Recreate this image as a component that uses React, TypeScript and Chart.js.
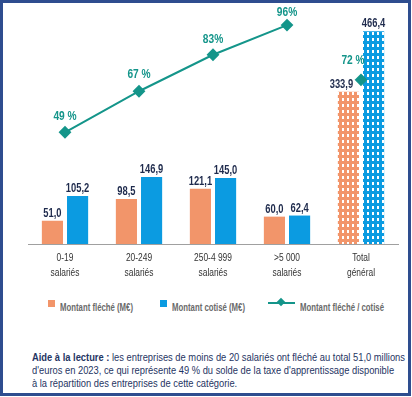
import React, { useEffect, useLayoutEffect, useRef } from 'react';
import { Chart, registerables } from 'chart.js';
Chart.register(...registerables);

const categories: string[][] = [
  ['0-19', 'salariés'],
  ['20-249', 'salariés'],
  ['250-4 999', 'salariés'],
  ['>5 000', 'salariés'],
  ['Total', 'général'],
];
const flecheValues = [51.0, 98.5, 121.1, 60.0, 333.9];
const cotiseValues = [105.2, 146.9, 145.0, 62.4, 466.4];
const ratioValues = [49, 67, 83, 96, 72];
const ratioLabels = ['49 %', '67 %', '83%', '96%', '72 %'];

const ORANGE = '#F2956A';
const BLUE = '#0B9BE1';
const TEAL = '#14958A';
const NAVY = '#1F2B4D';
const FRAME = '#2E4D8F';
const FONT = "'Liberation Sans', Arial, sans-serif";

function makePattern(color: string): CanvasPattern | string {
  const c = document.createElement('canvas');
  c.width = 5;
  c.height = 6;
  const g = c.getContext('2d');
  if (!g) return color;
  g.fillStyle = color;
  g.fillRect(0, 0, 5, 6);
  g.fillStyle = '#ffffff';
  g.fillRect(2, 2, 2, 3);
  return g.createPattern(c, 'repeat') || color;
}

const fmt = (v: number) => v.toFixed(1).replace('.', ',');

function squeezeText(ctx: CanvasRenderingContext2D, text: string, x: number, y: number, sx: number) {
  ctx.save();
  ctx.translate(x, y);
  ctx.scale(sx, 1);
  ctx.fillText(text, 0, 0);
  ctx.restore();
}

// vertical label offsets above the ratio markers (px)
const ratioLabelLift = [16, 17, 15, 12, 19];

const labelPlugin = {
  id: 'valueLabels',
  afterDatasetsDraw(chart: any) {
    const ctx = chart.ctx as CanvasRenderingContext2D;
    const last = categories.length - 1;
    ctx.save();
    ctx.textAlign = 'center';
    ctx.textBaseline = 'alphabetic';
    ctx.font = `bold 12px ${FONT}`;
    ctx.fillStyle = NAVY;
    [0, 1].forEach((di) => {
      const meta = chart.getDatasetMeta(di);
      const vals = di === 0 ? flecheValues : cotiseValues;
      meta.data.forEach((el: any, i: number) => {
        const dx = di === 0 && i === last ? -7 : 0;
        squeezeText(ctx, fmt(vals[i]), el.x + dx, el.y - 4, 0.78);
      });
    });
    const lm = chart.getDatasetMeta(2);
    ctx.font = `bold 12px ${FONT}`;
    ctx.fillStyle = TEAL;
    ctx.textBaseline = 'middle';
    lm.data.forEach((el: any, i: number) => {
      squeezeText(ctx, ratioLabels[i], el.x + (i === last ? -8 : 0), el.y - ratioLabelLift[i], 0.85);
    });
    // category labels
    const xs = chart.scales.x;
    const bottom = chart.chartArea.bottom;
    ctx.font = `10.5px ${FONT}`;
    ctx.fillStyle = '#333333';
    categories.forEach((lines, i) => {
      const x = xs.getPixelForTick(i);
      lines.forEach((t, j) => {
        squeezeText(ctx, t, x, bottom + 14 + j * 15, 0.8);
      });
    });
    ctx.restore();
  },
};

function Squeeze({ target, style, children }: { target: number; style?: React.CSSProperties; children: React.ReactNode }) {
  const ref = useRef<HTMLSpanElement>(null);
  useLayoutEffect(() => {
    const el = ref.current;
    if (!el) return;
    el.style.transform = 'none';
    const w = el.getBoundingClientRect().width;
    if (w > 0) el.style.transform = `scaleX(${target / w})`;
  }, [target]);
  return (
    <span
      ref={ref}
      style={{ display: 'inline-block', whiteSpace: 'nowrap', transformOrigin: 'left center', ...style }}
    >
      {children}
    </span>
  );
}

export default function App() {
  const ref = useRef<HTMLCanvasElement>(null);
  const aideRef = useRef<HTMLDivElement>(null);
  useEffect(() => {
    if (!ref.current) return;
    const n = categories.length;
    const orangeBg = flecheValues.map((_, i) => (i === n - 1 ? makePattern(ORANGE) : ORANGE));
    const blueBg = cotiseValues.map((_, i) => (i === n - 1 ? makePattern(BLUE) : BLUE));
    const chart = new Chart(ref.current, {
      type: 'bar',
      data: {
        labels: categories,
        datasets: [
          {
            type: 'bar',
            label: 'Montant fléché (M€)',
            data: flecheValues,
            backgroundColor: orangeBg as any,
            categoryPercentage: 0.68,
            barPercentage: 0.84,
            yAxisID: 'y',
            order: 2,
          },
          {
            type: 'bar',
            label: 'Montant cotisé (M€)',
            data: cotiseValues,
            backgroundColor: blueBg as any,
            categoryPercentage: 0.68,
            barPercentage: 0.84,
            yAxisID: 'y',
            order: 2,
          },
          {
            type: 'line',
            label: 'Montant fléché / cotisé',
            data: ratioValues,
            borderColor: TEAL,
            backgroundColor: TEAL,
            borderWidth: 2,
            pointStyle: 'rectRot',
            pointRadius: 5,
            pointBackgroundColor: TEAL,
            pointBorderColor: TEAL,
            tension: 0,
            yAxisID: 'y1',
            order: 0,
            segment: {
              borderColor: (c: any) => (c.p1DataIndex === n - 1 ? 'rgba(0,0,0,0)' : TEAL),
            },
          } as any,
        ],
      },
      options: {
        animation: false,
        responsive: false,
        devicePixelRatio: 1,
        layout: { padding: { left: 28, right: 14, top: 16, bottom: 6 } },
        plugins: { legend: { display: false }, tooltip: { enabled: false } },
        scales: {
          x: {
            grid: { display: false, drawTicks: false },
            border: { display: true, color: '#A0A0A0', width: 1 },
            ticks: { display: false },
            afterFit: (s: any) => {
              s.height = 40;
            },
          },
          y: { display: false, min: 0, max: 500 },
          y1: { display: false, min: 0, max: 100 },
        },
      },
      plugins: [labelPlugin],
    });
    return () => chart.destroy();
  }, []);

  useLayoutEffect(() => {
    const box = aideRef.current;
    if (!box) return;
    const first = box.firstElementChild as HTMLElement | null;
    if (!first) return;
    box.style.transform = 'none';
    const w = first.getBoundingClientRect().width;
    if (w > 0) box.style.transform = `scaleX(${373 / w})`;
  }, []);

  const legendText: React.CSSProperties = {
    fontFamily: FONT,
    fontSize: 10,
    fontWeight: 'bold',
    color: '#6A6A6A',
    lineHeight: '12px',
  };
  const pos = (left: number, top: number): React.CSSProperties => ({ position: 'absolute', left, top });
  const sq = (left: number, color: string): React.CSSProperties => ({
    position: 'absolute',
    left,
    top: 297,
    width: 7,
    height: 7,
    background: color,
  });
  const line: React.CSSProperties = { display: 'block', whiteSpace: 'nowrap', width: 'max-content' };

  return (
    <div
      style={{
        position: 'relative',
        width: 411,
        height: 396,
        border: `3px solid ${FRAME}`,
        boxSizing: 'border-box',
        background: '#fff',
        overflow: 'hidden',
      }}
    >
      <style>{`body{margin:0}`}</style>
      <canvas ref={ref} width={412} height={290} style={{ position: 'absolute', left: -3, top: -3 }} />
      <div style={sq(45, ORANGE)} />
      <div style={pos(57, 294)}>
        <Squeeze target={73} style={legendText}>Montant fléché (M€)</Squeeze>
      </div>
      <div style={sq(157, BLUE)} />
      <div style={pos(169, 294)}>
        <Squeeze target={73} style={legendText}>Montant cotisé (M€)</Squeeze>
      </div>
      <div style={{ position: 'absolute', left: 265, top: 299, width: 27, height: 2, background: TEAL }} />
      <div
        style={{
          position: 'absolute',
          left: 275,
          top: 296,
          width: 6,
          height: 6,
          background: TEAL,
          transform: 'rotate(45deg)',
        }}
      />
      <div style={pos(297, 294)}>
        <Squeeze target={84} style={legendText}>Montant fléché / cotisé</Squeeze>
      </div>
      <div
        ref={aideRef}
        style={{
          position: 'absolute',
          left: 29,
          top: 348,
          fontFamily: FONT,
          fontSize: 11,
          lineHeight: '13px',
          color: '#1F3563',
          transformOrigin: 'left top',
        }}
      >
        <span style={line}>
          <b>Aide à la lecture :</b> les entreprises de moins de 20 salariés ont fléché au total 51,0 millions
        </span>
        <span style={line}>d'euros en 2023, ce qui représente 49 % du solde de la taxe d'apprentissage disponible</span>
        <span style={line}>à la répartition des entreprises de cette catégorie.</span>
      </div>
    </div>
  );
}
